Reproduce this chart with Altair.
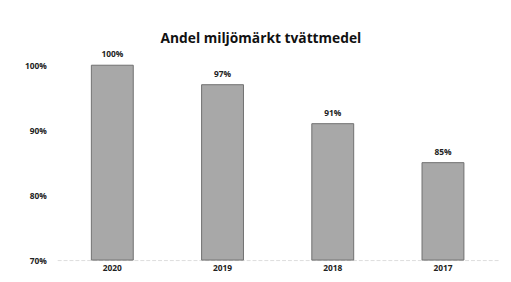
import altair as alt
import pandas as pd

years = ["2020", "2019", "2018", "2017"]
shares = [100, 97, 91, 85]
labels = ["100%", "97%", "91%", "85%"]
baseline = 70

df = pd.DataFrame({"year": years, "share": shares, "label": labels})

FONT = "Open Sans"

base = alt.Chart(df).encode(
    x=alt.X("year:N", sort=years, title=None,
            scale=alt.Scale(paddingInner=0.62, paddingOuter=0.31),
            axis=alt.Axis(labelAngle=0, labelFont=FONT, labelFontWeight="bold",
                          labelFontSize=8.5, labelColor="#222", labelPadding=4,
                          ticks=False, domainColor="#dcdcdc", domainDash=[4, 2],
                          domainWidth=1)),
    y=alt.Y("share:Q", title=None,
            scale=alt.Scale(domain=[70, 100], nice=False, zero=False),
            axis=alt.Axis(values=[70, 80, 90, 100], labelExpr="datum.value + '%'",
                          labelFont=FONT, labelFontWeight="bold", labelFontSize=8.5,
                          labelColor="#222", labelPadding=11, ticks=False,
                          domain=False, grid=False)),
)

bars = base.mark_bar(color="#a8a8a8", stroke="#6f6f6f", strokeWidth=1).encode(
    y2=alt.datum(baseline))
text = base.mark_text(dy=-11, font=FONT, fontWeight="bold", fontSize=8.5,
                      color="#222").encode(text="label:N")

chart = (bars + text).properties(
    width=448, height=198,
    title=alt.TitleParams("Andel miljömärkt tvättmedel", font=FONT, fontSize=14,
                          fontWeight="bold", color="#111", anchor="middle",
                          dx=-17, offset=5, frame="group"),
    padding={"left": 50, "top": 56, "right": 5, "bottom": 12},
    autosize=alt.AutoSizeParams(type="none"),
    background="white",
).configure_view(stroke=None)

chart.save("out.html", embed_options={"renderer": "svg", "actions": False})
